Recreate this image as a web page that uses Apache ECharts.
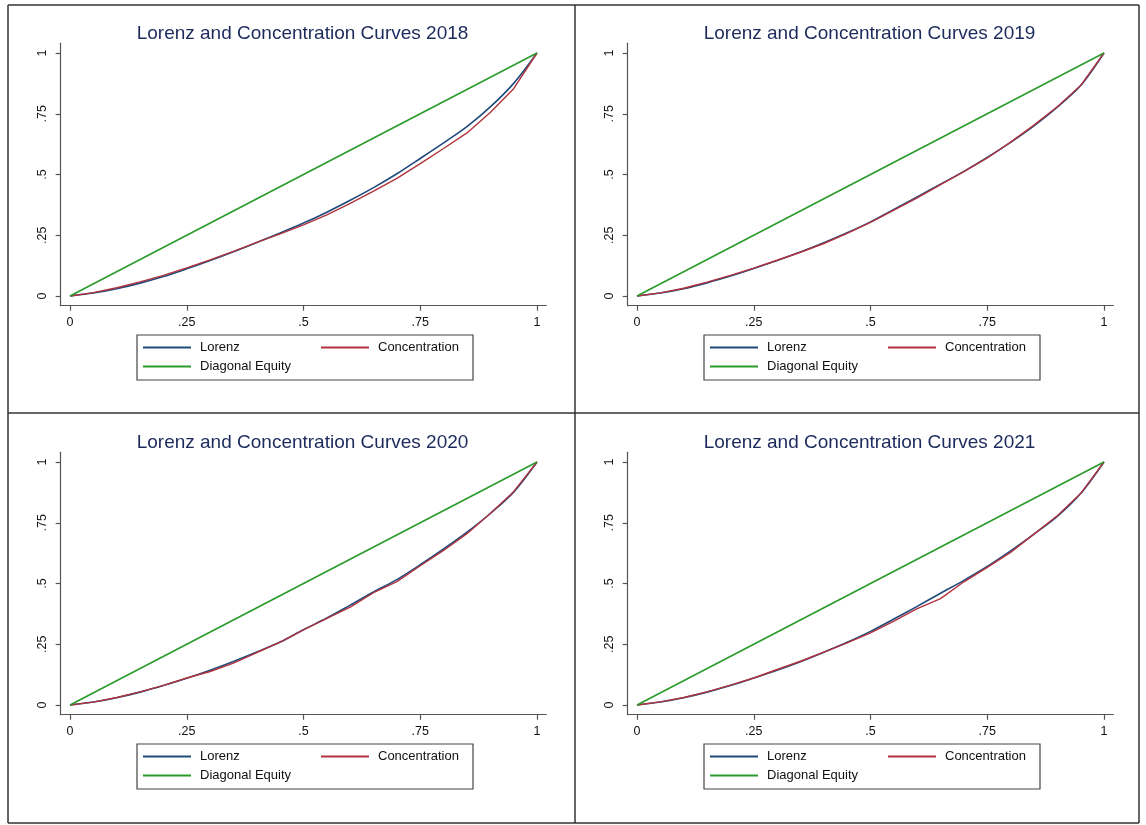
<!DOCTYPE html>
<html>
<head>
<meta charset="utf-8">
<script src="https://cdn.jsdelivr.net/npm/echarts@6/dist/echarts.min.js"></script>
<style>
  html, body { margin: 0; padding: 0; background: #fff; }
  #chart { width: 1146px; height: 825px; }
</style>
</head>
<body>
<div id="chart"></div>
<script>
// population share (x) used by every curve
const share = [0, .05, .1, .15, .2, .25, .3, .35, .4, .45, .5, .55, .6, .65, .7, .75, .8, .85, .9, .95, 1];

const lorenz2018 = [0, .012, .030, .053, .080, .112, .146, .182, .220, .259, .300, .345, .394, .446, .503, .566, .630, .697, .778, .875, 1];
const conc2018   = [0, .014, .034, .058, .085, .116, .149, .184, .221, .256, .293, .334, .381, .432, .484, .545, .607, .671, .755, .853, 1];

const lorenz2019 = [0, .012, .030, .054, .082, .113, .146, .181, .219, .260, .305, .356, .408, .460, .513, .570, .632, .700, .777, .866, 1];
const conc2019   = [0, .013, .032, .057, .085, .115, .147, .180, .216, .258, .303, .353, .404, .458, .512, .568, .633, .703, .779, .866, 1];

const lorenz2020 = [0, .012, .030, .053, .080, .110, .143, .179, .218, .259, .310, .358, .411, .465, .516, .577, .642, .711, .788, .876, 1];
const conc2020   = [0, .012, .031, .054, .081, .111, .138, .172, .216, .259, .309, .356, .403, .462, .508, .573, .636, .705, .788, .878, 1];

const lorenz2021 = [0, .012, .030, .053, .080, .111, .143, .178, .217, .258, .303, .354, .406, .460, .513, .570, .634, .703, .776, .870, 1];
const conc2021   = [0, .013, .031, .054, .082, .111, .146, .180, .218, .256, .297, .345, .397, .438, .507, .566, .628, .703, .779, .870, 1];

const diagX = [0, 1];
const diagY = [0, 1];

const years = ['2018', '2019', '2020', '2021'];
const lorenzByYear = [lorenz2018, lorenz2019, lorenz2020, lorenz2021];
const concByYear = [conc2018, conc2019, conc2020, conc2021];

const tickValues = [0, .25, .5, .75, 1];
const tickLabels = ['0', '.25', '.5', '.75', '1'];

// pixel spot of (0,1) in each panel
const panels = [
  { x0: 70, y0: 53 },
  { x0: 637, y0: 53 },
  { x0: 70, y0: 462 },
  { x0: 637, y0: 462 }
];
const unitW = 467, unitH = 243;

const colLorenz = '#1f4a7c';
const colConc = '#b0333d';
const colDiag = '#2a9a2a';
const font = '"Liberation Sans", Arial, sans-serif';

function pairs(xs, ys) {
  return xs.map(function (x, i) { return [x, ys[i]]; });
}
function fmt(v) {
  const i = tickValues.indexOf(v);
  return i >= 0 ? tickLabels[i] : '';
}

let grids = [], xAxes = [], yAxes = [], series = [], titles = [], legends = [], graphics = [];

panels.forEach(function (p, k) {
  grids.push({
    left: p.x0 - 0.02 * unitW,
    top: p.y0 - 0.04 * unitH,
    width: 1.04 * unitW,
    height: 1.08 * unitH
  });
  xAxes.push({
    type: 'value', gridIndex: k, min: -0.02, max: 1.02,
    axisLine: { show: true, onZero: false, lineStyle: { color: '#555', width: 1.2 } },
    axisTick: { show: true, length: 5, customValues: tickValues, lineStyle: { color: '#555', width: 1.2 } },
    axisLabel: { customValues: tickValues, formatter: fmt, margin: 10, color: '#111', fontSize: 12.5, fontFamily: font },
    splitLine: { show: false }
  });
  yAxes.push({
    type: 'value', gridIndex: k, min: -0.04, max: 1.04,
    axisLine: { show: true, onZero: false, lineStyle: { color: '#555', width: 1.2 } },
    axisTick: { show: true, length: 5, customValues: tickValues, lineStyle: { color: '#555', width: 1.2 } },
    axisLabel: { customValues: tickValues, formatter: fmt, rotate: 90, margin: 12, color: '#111', fontSize: 12.5, fontFamily: font },
    splitLine: { show: false }
  });

  series.push({
    name: 'Lorenz', type: 'line', xAxisIndex: k, yAxisIndex: k,
    data: pairs(share, lorenzByYear[k]), smooth: 0.3, symbol: 'none',
    itemStyle: { color: colLorenz }, lineStyle: { color: colLorenz, width: 1.6 }
  });
  series.push({
    name: 'Concentration', type: 'line', xAxisIndex: k, yAxisIndex: k,
    data: pairs(share, concByYear[k]), smooth: false, symbol: 'none',
    itemStyle: { color: colConc }, lineStyle: { color: colConc, width: 1.4 }
  });
  series.push({
    name: 'Diagonal Equity', type: 'line', xAxisIndex: k, yAxisIndex: k,
    data: pairs(diagX, diagY), symbol: 'none',
    itemStyle: { color: colDiag }, lineStyle: { color: colDiag, width: 1.6 }
  });

  titles.push({
    text: 'Lorenz and Concentration Curves ' + years[k],
    left: p.x0 + unitW / 2 - 6, top: p.y0 - 34, textAlign: 'center',
    textStyle: { color: '#1c2a5c', fontSize: 19, fontWeight: 'normal', fontFamily: font }
  });

  const legBase = {
    orient: 'horizontal', icon: 'rect', itemWidth: 48, itemHeight: 2, padding: 0,
    selectedMode: false,
    textStyle: { color: '#111', fontSize: 13, fontFamily: font, padding: [0, 0, 0, 4] }
  };
  legends.push(Object.assign({}, legBase, { data: ['Lorenz'], left: p.x0 + 73, top: p.y0 + 288 }));
  legends.push(Object.assign({}, legBase, { data: ['Concentration'], left: p.x0 + 251, top: p.y0 + 288 }));
  legends.push(Object.assign({}, legBase, { data: ['Diagonal Equity'], left: p.x0 + 73, top: p.y0 + 307 }));

  graphics.push({
    type: 'rect', shape: { x: p.x0 + 67, y: p.y0 + 282, width: 336, height: 45 },
    style: { fill: 'none', stroke: '#444', lineWidth: 1.2 }
  });
});

// panel frames
const frameX = [8, 575, 1139];
const frameY = [5, 413, 823];
frameX.forEach(function (x) {
  graphics.push({ type: 'line', shape: { x1: x, y1: frameY[0], x2: x, y2: frameY[2] }, style: { stroke: '#333', lineWidth: 1.5 } });
});
frameY.forEach(function (y) {
  graphics.push({ type: 'line', shape: { x1: frameX[0], y1: y, x2: frameX[2], y2: y }, style: { stroke: '#333', lineWidth: 1.5 } });
});

const myChart = echarts.init(document.getElementById('chart'));
myChart.setOption({
  animation: false,
  backgroundColor: '#fff',
  title: titles,
  legend: legends,
  grid: grids,
  xAxis: xAxes,
  yAxis: yAxes,
  series: series,
  graphic: graphics
});
</script>
</body>
</html>
